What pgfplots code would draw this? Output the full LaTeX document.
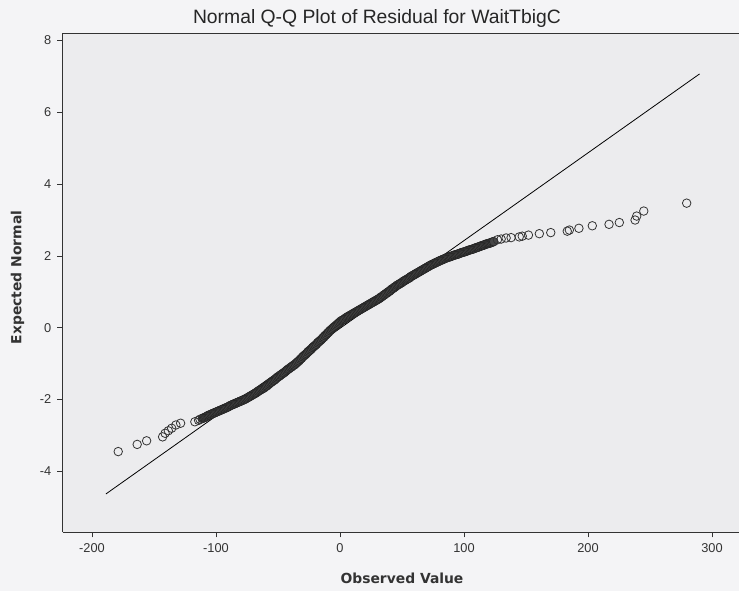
\documentclass[border=0pt]{standalone}
\usepackage{fontspec}
\setmainfont{Liberation Sans}
\newfontfamily\labfont{DejaVu Sans}
\usepackage{pgfplots}
\pgfplotsset{compat=1.18}
\usepackage{pgfplotstable}
\definecolor{bgout}{HTML}{F4F4F6}
\definecolor{bgin}{HTML}{ECECEE}
\definecolor{ink}{HTML}{333333}

\pgfplotstableread{
x y
-111 -2.53
-110 -2.51
-109 -2.50
-108 -2.48
-107 -2.46
-106 -2.44
-105 -2.43
-104 -2.41
-103 -2.40
-102 -2.38
-101 -2.37
-100 -2.35
-99 -2.34
-98 -2.32
-97 -2.31
-96 -2.29
-95 -2.28
-94 -2.26
-93 -2.25
-92 -2.23
-91 -2.22
-90 -2.20
-89 -2.18
-88 -2.16
-87 -2.15
-86 -2.13
-85 -2.12
-84 -2.10
-83 -2.09
-82 -2.07
-81 -2.06
-80 -2.04
-79 -2.03
-78 -2.01
-77 -2.00
-76 -1.98
-75 -1.96
-74 -1.94
-73 -1.92
-72 -1.90
-71 -1.88
-70 -1.86
-69 -1.84
-68 -1.82
-67 -1.80
-66 -1.77
-65 -1.75
-64 -1.73
-63 -1.71
-62 -1.69
-61 -1.67
-60 -1.64
-59 -1.62
-58 -1.59
-57 -1.56
-56 -1.53
-55 -1.51
-54 -1.48
-53 -1.46
-52 -1.43
-51 -1.40
-50 -1.37
-49 -1.35
-48 -1.32
-47 -1.30
-46 -1.27
-45 -1.25
-44 -1.22
-43 -1.19
-42 -1.16
-41 -1.14
-40 -1.11
-39 -1.09
-38 -1.06
-37 -1.04
-36 -1.01
-35 -0.98
-34 -0.95
-33 -0.92
-32 -0.88
-31 -0.85
-30 -0.81
-29 -0.78
-28 -0.75
-27 -0.72
-26 -0.68
-25 -0.65
-24 -0.62
-23 -0.59
-22 -0.55
-21 -0.52
-20 -0.49
-19 -0.46
-18 -0.42
-17 -0.39
-16 -0.36
-15 -0.33
-14 -0.29
-13 -0.26
-12 -0.22
-11 -0.19
-10 -0.15
-9 -0.12
-8 -0.08
-7 -0.05
-6 -0.02
-5 0.01
-4 0.04
-3 0.07
-2 0.10
-1 0.13
0 0.16
1 0.19
2 0.21
3 0.23
4 0.25
5 0.28
6 0.30
7 0.32
8 0.34
9 0.36
10 0.38
11 0.40
12 0.42
13 0.44
14 0.46
15 0.48
16 0.50
17 0.52
18 0.54
19 0.56
20 0.58
21 0.60
22 0.62
23 0.64
24 0.66
25 0.68
26 0.70
27 0.72
28 0.74
29 0.76
30 0.78
31 0.80
32 0.82
33 0.85
34 0.87
35 0.90
36 0.92
37 0.95
38 0.97
39 1.00
40 1.02
41 1.05
42 1.08
43 1.10
44 1.13
45 1.15
46 1.18
47 1.20
48 1.22
49 1.24
50 1.26
51 1.29
52 1.31
53 1.33
54 1.35
55 1.37
56 1.39
57 1.42
58 1.44
59 1.46
60 1.48
61 1.50
62 1.52
63 1.54
64 1.56
65 1.58
66 1.60
67 1.62
68 1.64
69 1.66
70 1.68
71 1.70
72 1.72
73 1.74
74 1.76
75 1.77
76 1.79
77 1.81
78 1.82
79 1.84
80 1.86
81 1.87
82 1.89
83 1.90
84 1.92
85 1.93
86 1.95
87 1.96
88 1.97
89 1.98
90 1.99
91 2.01
92 2.02
93 2.03
94 2.04
95 2.05
96 2.06
97 2.08
98 2.09
99 2.10
100 2.11
101 2.12
102 2.13
103 2.15
104 2.16
105 2.17
106 2.18
107 2.19
108 2.20
109 2.22
110 2.23
111 2.24
112 2.25
113 2.27
114 2.28
115 2.29
116 2.30
117 2.32
118 2.33
119 2.34
120 2.35
121 2.36
122 2.37
123 2.39
124 2.40
}\densetbl

\pgfplotstableread{
x y
127 2.45
130 2.47
134 2.50
138 2.51
144.6 2.53
147 2.55
152 2.58
160.8 2.62
170 2.65
183.3 2.69
185 2.72
192.7 2.77
203.5 2.84
217 2.88
225.3 2.93
238 3.00
239.3 3.11
245 3.25
279.6 3.47
-178.8 -3.45
-163.5 -3.25
-155.9 -3.15
-143 -3.04
-141 -2.94
-138.4 -2.87
-135.7 -2.80
-132.3 -2.71
-128.5 -2.66
-117 -2.62
-114 -2.58
-112.9 -2.55
}\sparsetbl

\begin{document}
\begin{tikzpicture}
\path[use as bounding box, fill=bgout] (-47pt,-44.25pt) rectangle (507.25pt,399pt);
\begin{axis}[
  at={(0,0)}, anchor=south west,
  scale only axis, width=507.25pt, height=374.25pt,
  xmin=-223.6, xmax=321.8, ymin=-5.69, ymax=8.21,
  axis x line*=bottom, axis y line*=left,
  axis line style={ink, line width=0.7pt},
  axis background/.style={fill=bgin},
  xtick={-200,-100,0,100,200,300},
  xticklabels={-200,-100,0,100,200,300},
  ytick={-4,-2,0,2,4,6,8},
  yticklabels={-4,-2,0,2,4,6,8},
  tick align=outside, major tick length=4pt,
  tick style={ink, line width=0.6pt},
  ticklabel style={font=\fontsize{9.6}{11}\selectfont, text=ink},
  xticklabel style={yshift=-1pt},
  yticklabel style={xshift=-1pt},
  clip=false,
]
\draw[ink, line width=0.7pt] (rel axis cs:0,1) -- (rel axis cs:1,1);
\addplot[black, line width=0.6pt, mark=none] coordinates {(-188.7,-4.63) (290,7.07)};
\addplot[only marks, mark=*, mark size=3.3pt, mark options={fill=black!72, draw=black!85, line width=0.5pt}] table[x=x,y=y] {\densetbl};
\addplot[only marks, mark=o, mark size=3.2pt, mark options={draw=black!80, line width=0.6pt}] table[x=x,y=y] {\sparsetbl};
\end{axis}
\node[font=\fontsize{14.5}{17}\selectfont, text=black!85] at (235.7pt,385.3pt) {Normal Q-Q Plot of Residual for WaitTbigC};
\node[font=\labfont\bfseries\fontsize{10.4}{12}\selectfont, text=ink] at (254.5pt,-34.5pt) {Observed Value};
\node[font=\labfont\bfseries\fontsize{10.4}{12}\selectfont, text=ink, rotate=90] at (-33.9pt,190.9pt) {Expected Normal};
\end{tikzpicture}
\end{document}
